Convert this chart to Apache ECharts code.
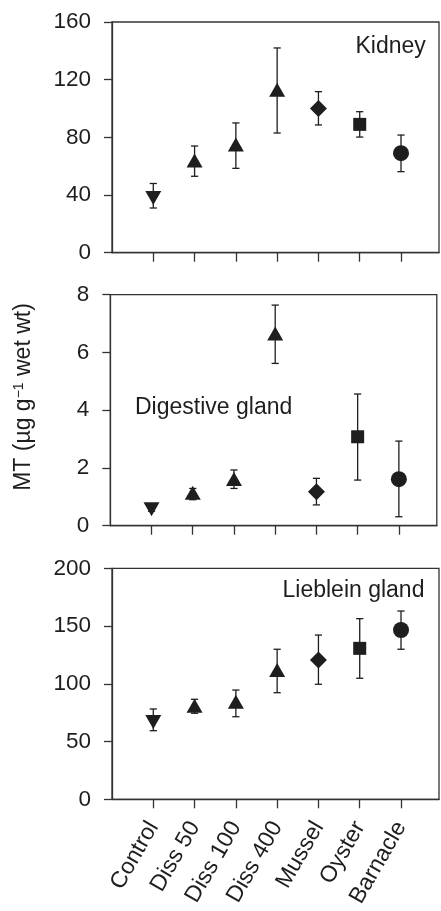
<!DOCTYPE html>
<html><head><meta charset="utf-8">
<script src="https://cdn.jsdelivr.net/npm/echarts@6/dist/echarts.min.js"></script>
<style>html,body{margin:0;padding:0;background:#fff}#c{width:441px;height:911px}</style>
</head><body><div id="c"></div>
<script>
// ---------- data ----------
const categories = ['Control', 'Diss 50', 'Diss 100', 'Diss 400', 'Mussel', 'Oyster', 'Barnacle'];
const panelNames = ['Kidney', 'Digestive gland', 'Lieblein gland'];

const kidneyMean = [38, 64, 75, 113, 100, 89, 69];
const kidneyLow  = [31, 53, 58.5, 83, 88.6, 80.2, 56.2];
const kidneyHigh = [48, 74, 90, 142, 111.7, 97.8, 81.6];

const digestiveMean = [0.57, 1.14, 1.62, 6.66, 1.18, 3.08, 1.61];
const digestiveLow  = [0.5, 0.9, 1.29, 5.62, 0.72, 1.58, 0.31];
const digestiveHigh = [0.62, 1.29, 1.93, 7.64, 1.64, 4.56, 2.93];

const liebleinMean = [67, 81, 84.5, 112, 120.6, 130.7, 146.6];
const liebleinLow  = [59.4, 74.5, 71.5, 92.3, 99.6, 104.8, 129.9];
const liebleinHigh = [78.2, 86.6, 94.6, 129.9, 142.2, 156.4, 163];

const yMax = [160, 8, 200];
const yInterval = [40, 2, 50];

// ---------- styles ----------
const symbolOf = ['triangle', 'triangle', 'triangle', 'triangle', 'diamond', 'rect', 'circle'];
const rotateOf = [180, 0, 0, 0, 0, 0, 0];
const sizeOf = [[16, 14], [16, 14], [16, 14], [16, 14], [17, 17], [13, 13], [16, 16]];
const FONT = 'Liberation Sans, Arial, sans-serif';
const INK = '#1e1e1e';
const AX = '#333';

const means = [kidneyMean, digestiveMean, liebleinMean];
const lows = [kidneyLow, digestiveLow, liebleinLow];
const highs = [kidneyHigh, digestiveHigh, liebleinHigh];

const grids = [
  {left: 112, width: 327, top: 22, height: 230.7},
  {left: 110.3, width: 326.5, top: 294.7, height: 231},
  {left: 112, width: 327, top: 568.3, height: 231}
].map(g => Object.assign({
  show: true, borderColor: AX, borderWidth: 1.3, backgroundColor: 'transparent',
  containLabel: false, outerBoundsMode: 'none'
}, g));

const tickPos = categories.map((c, i) => i + 1);

const xAxes = [0, 1, 2].map(i => ({
  type: 'value', gridIndex: i, min: 0, max: 7.92,
  axisLine: {show: true, lineStyle: {color: AX, width: 1.3}},
  axisTick: {show: true, customValues: tickPos, length: 9, inside: false, lineStyle: {color: AX, width: 1.3}},
  axisLabel: {
    show: i === 2, customValues: tickPos, rotate: 60, margin: 24,
    formatter: v => categories[Math.round(v) - 1] || '',
    fontFamily: FONT, fontSize: 23, color: INK
  },
  splitLine: {show: false}
}));

const yAxes = [0, 1, 2].map(i => ({
  type: 'value', gridIndex: i, min: 0, max: yMax[i], interval: yInterval[i],
  axisLine: {show: true, lineStyle: {color: AX, width: 1.3}},
  axisTick: {show: true, length: 8, inside: false, lineStyle: {color: AX, width: 1.3}},
  axisLabel: {margin: 21, fontFamily: FONT, fontSize: 22.5, color: INK},
  splitLine: {show: false}
}));

function errRender(params, api) {
  const x = api.value(0), lo = api.value(1), hi = api.value(2);
  const a = api.coord([x, lo]), b = api.coord([x, hi]);
  const hw = 3.6;
  const style = {stroke: INK, lineWidth: 1.3, fill: null};
  return {type: 'group', children: [
    {type: 'line', shape: {x1: a[0], y1: a[1], x2: b[0], y2: b[1]}, style},
    {type: 'line', shape: {x1: a[0] - hw, y1: a[1], x2: a[0] + hw, y2: a[1]}, style},
    {type: 'line', shape: {x1: b[0] - hw, y1: b[1], x2: b[0] + hw, y2: b[1]}, style}
  ]};
}

const series = [];
[0, 1, 2].forEach(p => {
  series.push({
    type: 'custom', xAxisIndex: p, yAxisIndex: p, renderItem: errRender,
    encode: {x: 0, y: [1, 2]}, silent: true, z: 2,
    data: categories.map((c, i) => [i + 1, lows[p][i], highs[p][i]])
  });
  series.push({
    type: 'scatter', xAxisIndex: p, yAxisIndex: p, z: 3, silent: true,
    itemStyle: {color: INK, opacity: 1},
    data: categories.map((c, i) => ({
      value: [i + 1, means[p][i]],
      symbol: symbolOf[i], symbolRotate: rotateOf[i], symbolSize: sizeOf[i]
    }))
  });
});

const graphic = [
  {type: 'text', x: 355.5, y: 47, style: {text: panelNames[0], font: '23px ' + FONT, fill: INK, textVerticalAlign: 'middle'}},
  {type: 'text', x: 135, y: 407.5, style: {text: panelNames[1], font: '23px ' + FONT, fill: INK, textVerticalAlign: 'middle'}},
  {type: 'text', x: 282.5, y: 591, style: {text: panelNames[2], font: '23px ' + FONT, fill: INK, textVerticalAlign: 'middle'}},
  {type: 'text', x: 24, y: 397, rotation: Math.PI / 2,
   style: {
     text: 'MT (µg g{sup|−1} wet wt)', fontFamily: FONT, fontSize: 23, fill: INK,
     align: 'center', verticalAlign: 'middle',
     rich: {sup: {fontFamily: FONT, fontSize: 14, fill: INK, verticalAlign: 'top', padding: [0, 0, 10, 0]}}
   }}
];

const chart = echarts.init(document.getElementById('c'), null, {renderer: 'canvas'});
chart.setOption({
  animation: false,
  backgroundColor: '#fff',
  grid: grids, xAxis: xAxes, yAxis: yAxes, series, graphic
});
</script>
</body></html>
